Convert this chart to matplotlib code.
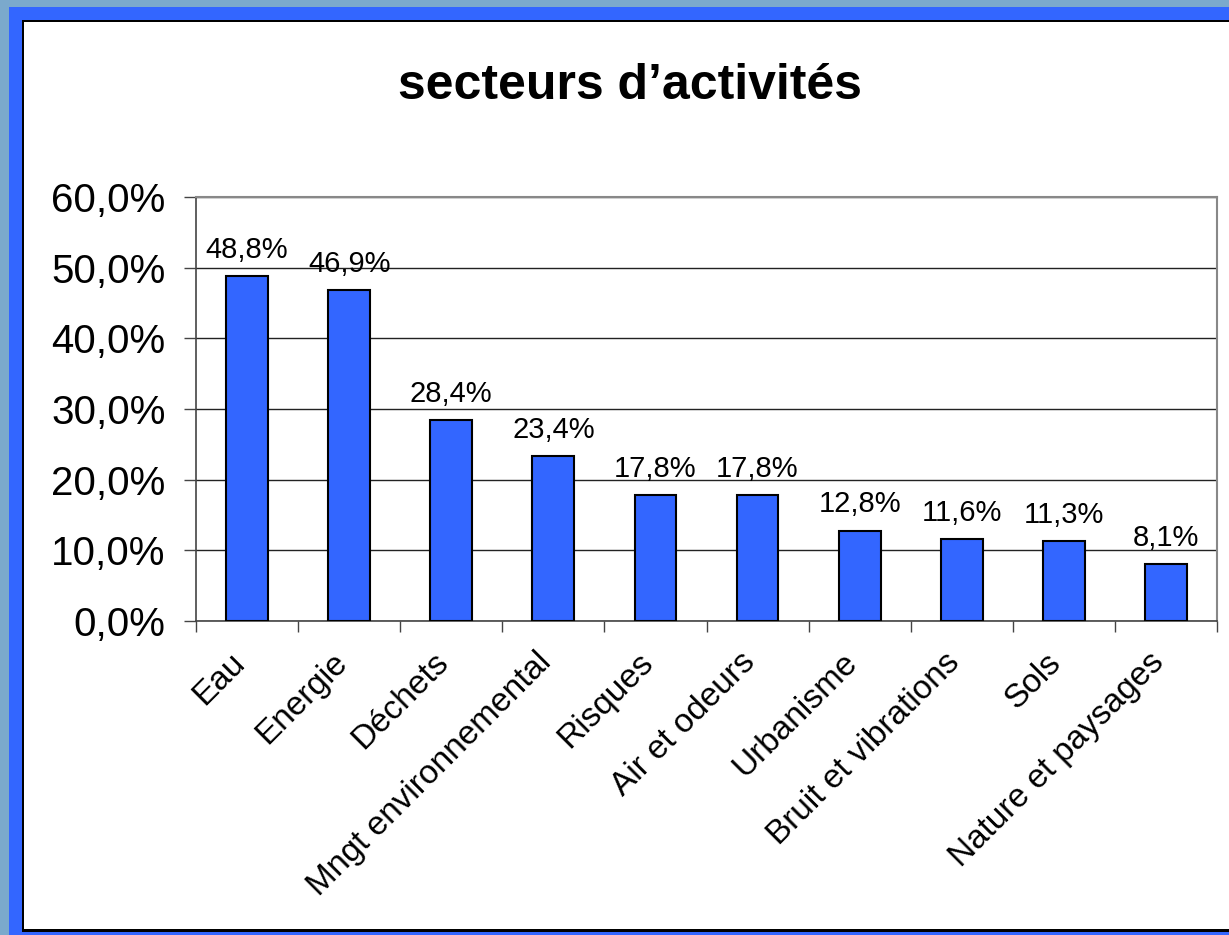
import numpy as np
import matplotlib.pyplot as plt
import matplotlib.transforms as mtransforms
from matplotlib.patches import Rectangle

# data
secteurs = ['Eau', 'Energie', 'Déchets', 'Mngt environnemental', 'Risques',
            'Air et odeurs', 'Urbanisme', 'Bruit et vibrations', 'Sols',
            'Nature et paysages']
valeurs = [48.8, 46.9, 28.4, 23.4, 17.8, 17.8, 12.8, 11.6, 11.3, 8.1]
yticks = [0, 10, 20, 30, 40, 50, 60]

W, H = 1229, 935
plt.rcParams['font.family'] = ['Liberation Sans', 'DejaVu Sans']

fig = plt.figure(figsize=(W/100, H/100), dpi=100)
fig.patch.set_facecolor('#7BA9CC')

def px_rect(x0, y0, x1, y1, color):
    # rectangle given in pixel coords (origin top-left)
    fig.add_artist(Rectangle((x0/W, 1-y1/H), (x1-x0)/W, (y1-y0)/H,
                             transform=fig.transFigure, facecolor=color,
                             edgecolor='none', zorder=0))

px_rect(9, 7, W, H, '#3366FF')
px_rect(22, 20, W, 932, 'black')
px_rect(24, 22, W, 929, 'white')

ax = fig.add_axes([196/W, 1-621/H, 1021/W, 424/H])
ax.set_facecolor('none')
x = np.arange(len(secteurs))
ax.bar(x, valeurs, width=0.41, color='#3366FF', edgecolor='black',
       linewidth=1.5, zorder=3)

for xi, v in zip(x, valeurs):
    ax.annotate(f'{v:.1f}%'.replace('.', ','), (xi, v), xytext=(0, 13),
                textcoords='offset points', ha='center', va='baseline',
                fontsize=21, zorder=4)

ax.set_xlim(-0.5, len(secteurs)-0.5)
ax.set_ylim(0, 60)
ax.set_yticks(yticks)
ax.set_yticklabels([f'{t},0%' for t in yticks], fontsize=29)
ax.tick_params(axis='y', direction='out', length=9, width=1, color='#444444', pad=13)
ax.yaxis.grid(True, color='#222222', linewidth=1, zorder=1)
ax.set_axisbelow(True)

ax.set_xticks(x)
ax.set_xticklabels(secteurs, rotation=45, ha='right', rotation_mode='anchor',
                   fontsize=24)
ax.tick_params(axis='x', which='major', length=0, pad=20)
shift = mtransforms.ScaledTranslation(-18/100, 2/100, fig.dpi_scale_trans)
for lab in ax.get_xticklabels():
    lab.set_transform(lab.get_transform() + shift)
ax.set_xticks(np.arange(-0.5, len(secteurs)), minor=True)
ax.tick_params(axis='x', which='minor', direction='out', length=8, width=1,
               color='#444444')

for s in ['left', 'bottom']:
    ax.spines[s].set_color('#444444')
    ax.spines[s].set_linewidth(1.2)
for s in ['right', 'top']:
    ax.spines[s].set_color('#888888')
    ax.spines[s].set_linewidth(1.5)

fig.text(630/W, 1-86/H, 'secteurs d\u2019activités', ha='center', va='center',
         fontsize=36, fontweight='bold')

fig.savefig('out.png', dpi=100, facecolor=fig.get_facecolor())
